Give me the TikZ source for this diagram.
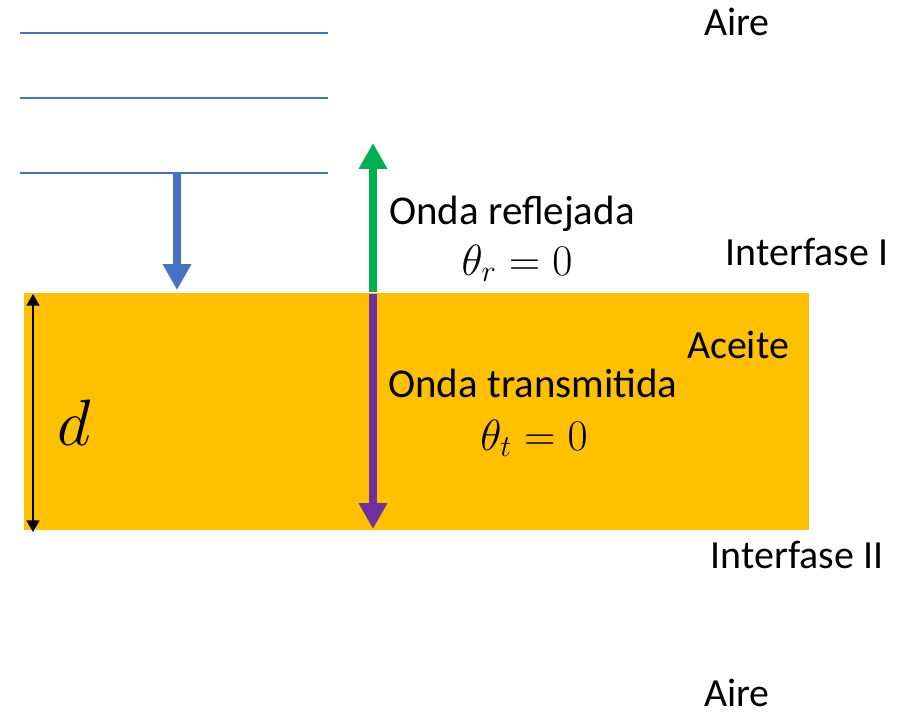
\documentclass[tikz,border=0pt]{standalone}
\usepackage{fontspec}
\setmainfont{Carlito}
\usetikzlibrary{arrows.meta}

\definecolor{oil}{HTML}{FFC000}
\definecolor{waveblue}{HTML}{4472C4}
\definecolor{wavegreen}{HTML}{00B050}
\definecolor{wavepurple}{HTML}{7030A0}

\tikzset{
  lbl/.style={anchor=base, inner sep=0pt, font=\fontsize{22.7}{26}\selectfont},
  wlbl/.style={lbl, font=\fontsize{23.3}{27}\selectfont},
  wave/.style={line width=5.1pt, -{Triangle[width=15.3pt,length=14.7pt]}},
}

\begin{document}
\begin{tikzpicture}[x=0.02cm, y=-0.02cm]
  \useasboundingbox (0,0) rectangle (903,714);

  % oil layer
  \fill[oil] (24,293) rectangle (809,530);

  % wave fronts
  \foreach \y in {33,98,173}
    \draw[waveblue, line width=0.6pt] (20,\y) -- (328,\y);

  \coordinate (inc0) at (177,173);
  \coordinate (inc1) at (177,290);
  \coordinate (ref0) at (373,292);
  \coordinate (ref1) at (373,143);
  \coordinate (tra0) at (373,294);
  \coordinate (tra1) at (373,529);
  \coordinate (dtop) at (33,294);
  \coordinate (dbot) at (33,532);

  \draw[wave, waveblue] (inc0) -- (inc1);
  \draw[wave, wavegreen] (ref0) -- (ref1);
  \draw[wave, wavepurple] (tra0) -- (tra1);
  \draw[line width=0.8pt, {Triangle[width=7.4pt,length=6.6pt]}-{Triangle[width=7.4pt,length=6.6pt]}] (dtop) -- (dbot);

  \node[lbl] (dlab) at (74,445) {\scalebox{1.8}{$d$}};

  \node[lbl] (aire1) at (737,35) {Aire};
  \node[lbl] (intI) at (807,265) {Interfase I};
  \node[lbl] (aceite) at (738,358) {Aceite};
  \node[lbl] (intII) at (797,568) {Interfase II};
  \node[lbl] (aire2) at (737,706) {Aire};

  \node[wlbl] (refl) at (512,224) {Onda reflejada};
  \node[wlbl] (threfl) at (517,275) {$\theta_r = 0$};
  \node[wlbl] (tran) at (533,397) {Onda transmitida};
  \node[wlbl] (thtran) at (534,450) {$\theta_t = 0$};
\end{tikzpicture}
\end{document}
